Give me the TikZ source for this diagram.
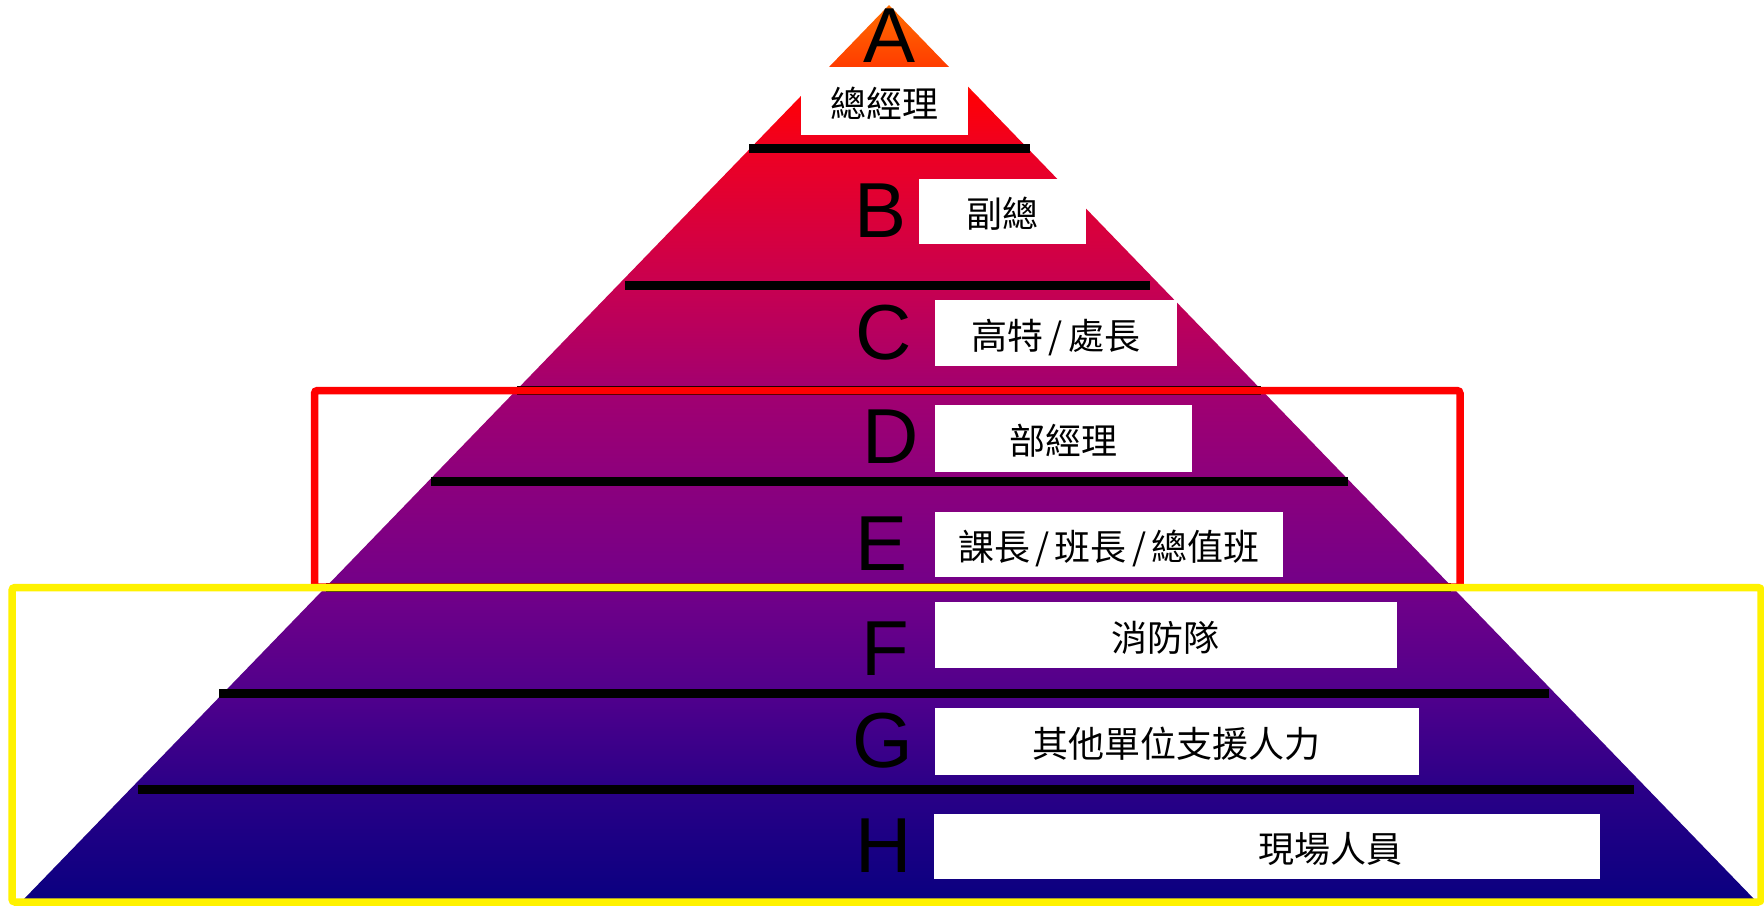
\documentclass[tikz,border=0pt]{standalone}
\usepackage{fontspec}
\setmainfont{Liberation Sans}
\newfontfamily\cjk{Noto Sans CJK TC}

% Colours of the pyramid, bottom to top
\definecolor{pyr0}{RGB}{10,0,128}
\definecolor{pyr1}{RGB}{42,0,135}
\definecolor{pyr2}{RGB}{78,0,140}
\definecolor{pyr3}{RGB}{115,0,136}
\definecolor{pyr4}{RGB}{140,0,125}
\definecolor{pyr5}{RGB}{162,0,112}
\definecolor{pyr6}{RGB}{200,0,80}
\definecolor{pyr7}{RGB}{238,0,34}
\definecolor{pyr8}{RGB}{255,0,5}
\definecolor{pyr9}{RGB}{255,60,0}
\definecolor{pyr10}{RGB}{255,110,0}

\pgfdeclareverticalshading{pyramid}{100bp}{color(0bp)=(pyr0); color(25bp)=(pyr0);
	color(31.20bp)=(pyr1); color(36.17bp)=(pyr2); color(42.49bp)=(pyr3);
	color(48.46bp)=(pyr4); color(53.49bp)=(pyr5); color(59.36bp)=(pyr6);
	color(66.90bp)=(pyr7); color(69.97bp)=(pyr8); color(71.54bp)=(pyr9);
	color(75bp)=(pyr10); color(100bp)=(pyr10)}

\newcommand{\jsl}{\kern0.14em/\kern0.14em}

\begin{document}
\begin{tikzpicture}[x = 1pt, y = -1pt,
	sepline/.style = {line width = 9pt},
	lbox/.style = {fill = white, inner sep = 0pt, text height = 34pt, text depth = 2pt,
		font = \cjk\fontsize{36}{40}\selectfont},
	letter/.style = {inner sep = 0pt, anchor = base, font = \fontsize{78}{80}\selectfont},
	frame/.style = {line width = 7.5pt, rounded corners = 3pt}]

	\useasboundingbox (0, 0) rectangle (1764, 905);
	\fill [white] (0, 0) rectangle (1764, 905);

	% Pyramid

	\coordinate (apex) at (889, 5);
	\coordinate (basel) at (23, 900);
	\coordinate (baser) at (1755, 900);
	\shade [shading = pyramid] (apex) -- (baser) -- (basel) -- cycle;

	% Dividing lines

	\foreach \y/\xa/\xb in {148.5/749/1030, 285/625/1150, 390/517/1261, 481.5/431/1348,
		587/326/1451, 693/219/1549, 789/138/1634}
		\draw [sepline] (\xa, \y) -- (\xb, \y);

	% Labels

	\node [lbox, minimum width = 167pt, minimum height = 68pt] (boxa) at (884.5, 101) {總經理};
	\node [lbox, minimum width = 167pt, minimum height = 65pt] (boxb) at (1002.5, 211.5) {副總};
	\node [lbox, minimum width = 242pt, minimum height = 66pt] (boxc) at (1056, 333) {高特\jsl 處長};
	\node [lbox, minimum width = 257pt, minimum height = 67pt] (boxd) at (1063.5, 438.5) {部經理};
	\node [lbox, minimum width = 348pt, minimum height = 65pt] (boxe) at (1109, 544.5) {課長\jsl 班長\jsl 總值班};
	\node [lbox, minimum width = 461.5pt, minimum height = 66pt] (boxf) at (1165.75, 635) {消防隊};
	\node [lbox, minimum width = 483.5pt, minimum height = 67pt] (boxg) at (1176.75, 741.5) {其他單位支援人力};
	\node [lbox, minimum width = 666pt, minimum height = 65pt] (boxh) at (1267, 846.5) {};
	\node [lbox, fill = none] (texth) at (1330, 846.5) {現場人員};

	% Level letters

	\foreach \l/\x/\y in {A/889.5/62, B/880.5/237, C/884/359, D/890.5/463,
		E/882/570, F/885/675, G/883/767, H/883.5/872}
		\node [letter] (\l) at (\x, \y) {\l};

	% Frames

	\draw [frame, red] (314.5, 390.5) rectangle (1460, 587);
	\draw [frame, yellow] (12, 587.5) rectangle (1761, 902);

\end{tikzpicture}
\end{document}
